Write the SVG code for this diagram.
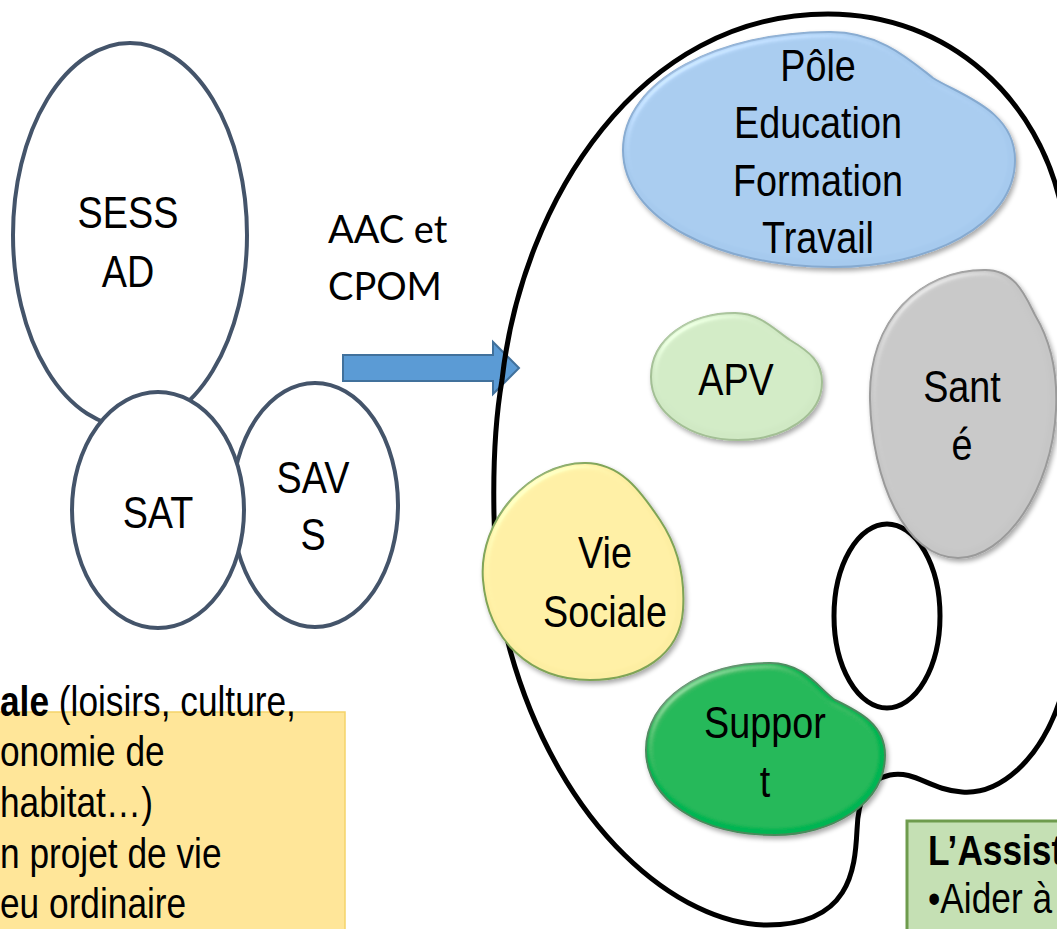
<svg xmlns="http://www.w3.org/2000/svg" width="1057" height="929" viewBox="0 0 1057 929">
  <style>
    .lbl { font-family: "Liberation Sans", Arial, sans-serif; fill: #000; text-anchor: middle; font-size: 45px; }
    .svc { fill: #fff; stroke: #44546A; stroke-width: 4; }
    .txt { font-family: "Liberation Sans", Arial, sans-serif; font-size: 42px; fill: #000; }
    .blob { stroke-width: 2; filter: url(#bevel); }
  </style>
  <defs>
    <filter id="bevel" x="-10%" y="-10%" width="125%" height="125%">
      <feGaussianBlur in="SourceAlpha" stdDeviation="3.5" result="blur"/>
      <feSpecularLighting in="blur" surfaceScale="4" specularConstant="0.5" specularExponent="25" lighting-color="#ffffff" result="spec">
        <feDistantLight azimuth="235" elevation="40"/>
      </feSpecularLighting>
      <feComposite in="spec" in2="SourceAlpha" operator="in" result="specIn"/>
      <feComposite in="SourceGraphic" in2="specIn" operator="arithmetic" k1="0" k2="1" k3="0.45" k4="0" result="lit"/>
      <feGaussianBlur in="SourceAlpha" stdDeviation="2.5" result="sh"/>
      <feOffset in="sh" dx="2" dy="3" result="sho"/>
      <feComponentTransfer in="sho" result="shadow">
        <feFuncA type="linear" slope="0.35"/>
      </feComponentTransfer>
      <feMerge>
        <feMergeNode in="shadow"/>
        <feMergeNode in="lit"/>
      </feMerge>
    </filter>
  </defs>

  <!-- left-hand services (labels set in a condensed face: scaled 0.84 horizontally) -->
  <g id="sessad">
    <ellipse class="svc" cx="130" cy="235" rx="117" ry="192"/>
    <text class="lbl" transform="translate(128,228) scale(0.84,1)">SESS</text>
    <text class="lbl" transform="translate(128,287) scale(0.84,1)">AD</text>
  </g>
  <g id="savs">
    <ellipse class="svc" cx="315" cy="505" rx="83" ry="122"/>
    <text class="lbl" transform="translate(313,493) scale(0.84,1)">SAV</text>
    <text class="lbl" transform="translate(313,550) scale(0.84,1)">S</text>
  </g>
  <g id="sat">
    <ellipse class="svc" cx="158" cy="510" rx="86" ry="118"/>
    <text class="lbl" transform="translate(158,528) scale(0.84,1)">SAT</text>
  </g>

  <!-- transition arrow -->
  <g id="connectors">
    <polygon points="343,355 493,355 493,342 519,368 493,394 493,381 343,381" fill="#5B9BD5" stroke="#41719C" stroke-width="2"/>
  </g>
  <g id="aac-label">
    <text x="328" y="243" font-family="Lato, 'Open Sans', sans-serif" font-size="38">AAC et</text>
    <text x="328" y="300" font-family="Lato, 'Open Sans', sans-serif" font-size="38">CPOM</text>
  </g>

  <!-- palette outline -->
  <g id="palette">
    <path d="M 828,14 C 950,14 1040,100 1062,210 C 1080,320 1080,600 1060,700 C 1040,760 1000,795 962,792 C 930,790 915,770 890,775 C 866,780 858,800 857,830 C 855,870 850,925 767,925 C 680,925 560,830 510,650 C 490,580 490,450 502,380 C 522,200 640,14 828,14 Z" fill="none" stroke="#000" stroke-width="5"/>
    <ellipse cx="887" cy="616" rx="53" ry="92" fill="none" stroke="#000" stroke-width="5"/>
  </g>

  <!-- poles -->
  <g id="pole-education">
    <path class="blob" d="M 623,150 C 623,80 720,32 830,32 C 880,32 910,60 933,78 C 960,95 1015,110 1015,160 C 1015,225 930,267 833,267 C 720,267 623,220 623,150 Z" fill="#A6CAEE" stroke="#86AAD0"/>
    <text class="lbl" transform="translate(818,81) scale(0.84,1)">Pôle</text>
    <text class="lbl" transform="translate(818,138) scale(0.84,1)">Education</text>
    <text class="lbl" transform="translate(818,196) scale(0.84,1)">Formation</text>
    <text class="lbl" transform="translate(818,253) scale(0.84,1)">Travail</text>
  </g>
  <g id="apv">
    <path class="blob" d="M 651,377 C 651,338 690,313 735,313 C 760,313 775,330 790,340 C 810,352 822,362 822,382 C 822,415 785,440 738,440 C 690,440 651,413 651,377 Z" fill="#D0E9C4" stroke="#A3BF95"/>
    <text class="lbl" transform="translate(736,395) scale(0.84,1)">APV</text>
  </g>
  <g id="sante">
    <path class="blob" d="M 870,400 C 868,320 920,270 985,270 C 1015,270 1025,295 1035,315 C 1050,340 1058,370 1056,410 C 1052,490 1005,558 958,558 C 905,558 872,480 870,400 Z" fill="#C6C6C6" stroke="#9A9A9A"/>
    <text class="lbl" transform="translate(962,402) scale(0.84,1)">Sant</text>
    <text class="lbl" transform="translate(962,460) scale(0.84,1)">é</text>
  </g>
  <g id="vie-sociale">
    <path class="blob" d="M 483,580 C 478,520 530,463 585,463 C 620,463 640,490 660,520 C 680,550 685,580 683,610 C 680,655 640,680 590,680 C 530,680 488,640 483,580 Z" fill="#FDEEA2" stroke="#7FA456"/>
    <text class="lbl" transform="translate(605,568) scale(0.84,1)">Vie</text>
    <text class="lbl" transform="translate(605,627) scale(0.84,1)">Sociale</text>
  </g>
  <g id="support">
    <path class="blob" d="M 646,750 C 646,700 700,663 770,663 C 805,663 820,690 835,700 C 860,712 885,725 885,755 C 885,805 830,835 775,835 C 700,835 646,800 646,750 Z" fill="#05B552" stroke="#4A8A5C"/>
    <text class="lbl" transform="translate(765,738) scale(0.84,1)">Suppor</text>
    <text class="lbl" transform="translate(765,797) scale(0.84,1)">t</text>
  </g>

  <!-- text boxes -->
  <g id="vie-sociale-note">
    <rect x="-5" y="712" width="350" height="225" fill="#FFE699" stroke="#F5D36A" stroke-width="1.5"/>
    <text class="txt" transform="translate(0,716) scale(0.84,1)"><tspan font-weight="bold">ale</tspan> (loisirs, culture,</text>
    <text class="txt" transform="translate(0,766) scale(0.84,1)">onomie de</text>
    <text class="txt" transform="translate(0,817) scale(0.84,1)">habitat…)</text>
    <text class="txt" transform="translate(0,868) scale(0.84,1)">n projet de vie</text>
    <text class="txt" transform="translate(0,918) scale(0.84,1)">eu ordinaire</text>
  </g>
  <g id="assistance-note">
    <rect x="907" y="821" width="160" height="120" fill="#C5E0B4" stroke="#6E9B4D" stroke-width="3"/>
    <text class="txt" font-weight="bold" transform="translate(928,865) scale(0.84,1)">L’Assist</text>
    <text class="txt" transform="translate(928,913) scale(0.84,1)">•Aider à</text>
  </g>
</svg>
